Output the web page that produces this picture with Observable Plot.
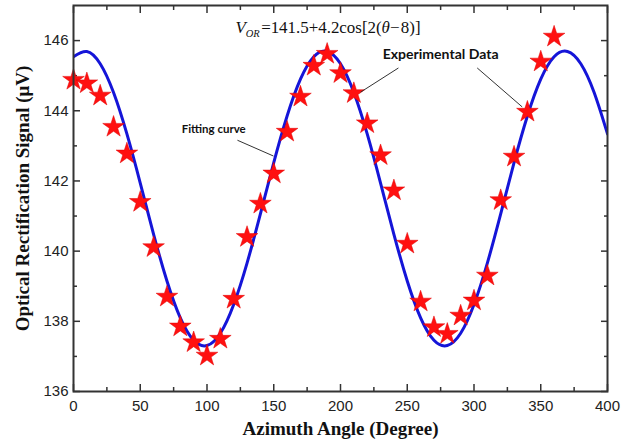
<!DOCTYPE html>
<html>
<head>
<meta charset="utf-8">
<script src="https://cdn.jsdelivr.net/npm/d3@7"></script>
<script src="https://cdn.jsdelivr.net/npm/@observablehq/plot@0.6"></script>
<style>
  body { margin: 0; background: #fff; }
  #chart svg { display: block; }
</style>
</head>
<body>
<div id="chart"></div>
<script>
// Experimental data (azimuth angle in degrees, signal in µV)
const angles = [0,10,20,30,40,50,60,70,80,90,100,110,120,130,140,150,160,170,180,190,200,210,220,230,240,250,260,270,280,290,300,310,320,330,340,350,360];
const signal = [144.88,144.78,144.43,143.54,142.78,141.40,140.11,138.70,137.85,137.40,137.02,137.50,138.64,140.40,141.35,142.21,143.40,144.40,145.28,145.62,145.07,144.50,143.64,142.73,141.73,140.21,138.56,137.83,137.64,138.16,138.59,139.30,141.45,142.69,143.97,145.40,146.11];

// Fitting curve
const fitAngles = [0,10,20,30,40,50,60,70,80,90,100,110,120,130,140,150,160,170,180,190,200,210,220,230,240,250,260,270,280,290,300,310,320,330,340,350,360,370,380,390,400];
const fitValues = [145.54,145.69,145.34,144.52,143.34,141.94,140.48,139.15,138.10,137.46,137.31,137.66,138.48,139.66,141.06,142.52,143.85,144.90,145.54,145.69,145.34,144.52,143.34,141.94,140.48,139.15,138.10,137.46,137.31,137.66,138.48,139.66,141.06,142.52,143.85,144.90,145.54,145.69,145.34,144.52,143.34];

// Axis ticks
const xMajor = [0,50,100,150,200,250,300,350,400];
const xMinor = [25,75,125,175,225,275,325,375];
const yMajor = [136,138,140,142,144,146];
const yMinor = [137,139,141,143,145];

// Annotations (data coordinates)
const annotationTexts = ["Fitting curve", "Experimental Data"];
const annotationX = [105, 275];
const annotationY = [143.47, 145.59];
const pointers = [
  {x1: 122.8, y1: 143.16, x2: 149.8, y2: 142.71},
  {x1: 243.4, y1: 145.22, x2: 215.0, y2: 144.53},
  {x1: 302.4, y1: 145.22, x2: 336.1, y2: 144.11}
];
const equationAnchor = [{x: 121.3, y: 146.22}];
const equationParts = ["V", "OR", "\u200a=141.5+4.2cos[2(", "\u03b8", "\u2212\u200a8)]"];

const xTitle = "Azimuth Angle (Degree)";
const yTitle = "Optical Rectification Signal (\u03bcV)";
const yTitleAnchor = [{x: -38.2, y: 141.5}];

const points = angles.map((a, i) => ({angle: a, value: signal[i]}));
const fit = fitAngles.map((a, i) => ({angle: a, value: fitValues[i]}));

const serif = "Liberation Serif";
const sans = "Liberation Sans";
const annoFont = "Lato";
const blank = () => "";

// text measuring helper
const ctx = document.createElement("canvas").getContext("2d");
function measure(text, size, family, style = "normal", weight = "normal") {
  ctx.font = `${style} ${weight} ${size}px "${family}"`;
  return ctx.measureText(text).width;
}

// annotation sizes fitted to the reference widths
const annoTarget = [64, 116];
const annoSizes = annotationTexts.map((t, i) => annoTarget[i] / measure(t, 1, annoFont, "normal", "bold"));
const annotations = annotationTexts.map((t, i) => ({text: t, x: annotationX[i], y: annotationY[i], size: annoSizes[i]}));

// equation layout
const subRatio = 0.62;
function eqWidth(s) {
  return measure(equationParts[0], s, serif, "italic") + measure(equationParts[1], s * subRatio, serif, "italic") +
         measure(equationParts[2], s, serif) + measure(equationParts[3], s, serif, "italic") + measure(equationParts[4], s, serif);
}
const eqSize = 185 / eqWidth(1);
const eqStyles = [
  {size: eqSize, style: "italic", dy: 0},
  {size: eqSize * subRatio, style: "italic", dy: eqSize * 0.25},
  {size: eqSize, style: "normal", dy: 0},
  {size: eqSize, style: "italic", dy: 0},
  {size: eqSize, style: "normal", dy: 0}
];
let off = 0;
const eqMarks = equationParts.map((p, i) => {
  const st = eqStyles[i];
  const m = Plot.text(equationAnchor, {x: "x", y: "y", text: () => p, fontFamily: serif, fontStyle: st.style,
    fontSize: st.size, textAnchor: "start", lineAnchor: "bottom", dx: off, dy: st.dy, fill: "#111"});
  off += measure(p, st.size, serif, st.style);
  return m;
});

const axisStyle = {stroke: "#333", strokeWidth: 1.5};

const chart = Plot.plot({
  width: 629,
  height: 447,
  marginLeft: 73,
  marginRight: 22,
  marginTop: 5,
  marginBottom: 56,
  style: {fontFamily: sans, fontSize: "15px", color: "#222", background: "#fff"},
  x: {domain: [0, 400], label: null},
  y: {domain: [136, 147], label: null},
  marks: [
    // axes with inward ticks
    Plot.axisX(xMajor, {anchor: "bottom", tickSize: -7, tickPadding: 16, tickFormat: d => d, fontSize: 15, ...axisStyle}),
    Plot.axisX(xMinor, {anchor: "bottom", tickSize: -4, tickFormat: blank, ...axisStyle}),
    Plot.axisX(xMajor, {anchor: "top", tickSize: -7, tickFormat: blank, ...axisStyle}),
    Plot.axisX(xMinor, {anchor: "top", tickSize: -4, tickFormat: blank, ...axisStyle}),
    Plot.axisY(yMajor, {anchor: "left", tickSize: -7, tickPadding: 12, tickFormat: d => d, fontSize: 15, ...axisStyle}),
    Plot.axisY(yMinor, {anchor: "left", tickSize: -4, tickFormat: blank, ...axisStyle}),
    Plot.axisY(yMajor, {anchor: "right", tickSize: -7, tickFormat: blank, ...axisStyle}),
    Plot.axisY(yMinor, {anchor: "right", tickSize: -4, tickFormat: blank, ...axisStyle}),
    // fitting curve
    Plot.line(fit, {x: "angle", y: "value", curve: "natural", stroke: "#1515d8", strokeWidth: 3, clip: true}),
    // experimental stars
    Plot.dot(points, {x: "angle", y: "value", symbol: "star", r: 6.8, fill: "#ff1010", stroke: "#e00000", strokeWidth: 0.5}),
    // annotation pointers
    Plot.link(pointers, {x1: "x1", y1: "y1", x2: "x2", y2: "y2", stroke: "#333", strokeWidth: 1}),
    Plot.text(annotations, {x: "x", y: "y", text: "text", fontFamily: annoFont, fontWeight: "bold", fontSize: d => d.size, fill: "#111"}),
    // equation
    ...eqMarks,
    // axis titles
    Plot.text([xTitle], {frameAnchor: "bottom", text: d => d, dy: 43, fontFamily: serif, fontWeight: "bold", fontSize: 19, fill: "#111"}),
    Plot.text(yTitleAnchor, {x: "x", y: "y", text: () => yTitle, rotate: -90, clip: false, fontFamily: serif, fontWeight: "bold", fontSize: 19, fill: "#111"}),
    Plot.frame({stroke: "#333", strokeWidth: 2})
  ]
});
document.getElementById("chart").appendChild(chart);
</script>
</body>
</html>
